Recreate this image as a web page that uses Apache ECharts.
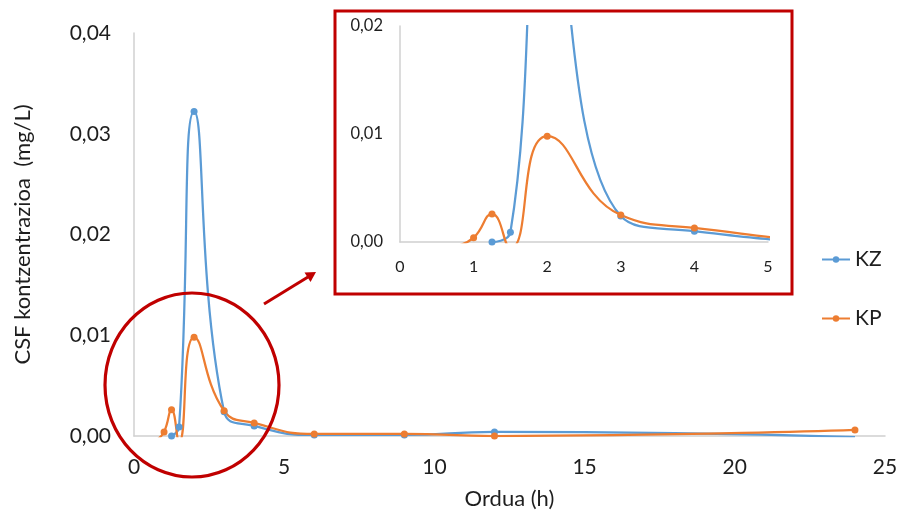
<!DOCTYPE html>
<html>
<head>
<meta charset="utf-8">
<script src="https://cdn.jsdelivr.net/npm/echarts@6/dist/echarts.min.js"></script>
<style>
html,body{margin:0;padding:0;background:#fff;}
#chart{width:902px;height:515px;}
</style>
</head>
<body>
<div id="chart"></div>
<script>
// ---- data (hours, mg/L) ----
const kzHours = [1.25, 1.5, 2, 3, 4, 6, 9, 12, 24];
const kzConc  = [0.0000, 0.0009, 0.0322, 0.0024, 0.0010, 0.0001, 0.0001, 0.0004, -0.0001];
const kpHours = [0.75, 1, 1.25, 1.5, 2, 3, 4, 6, 9, 12, 24];
const kpConc  = [-0.0004, 0.0004, 0.0026, -0.0006, 0.0098, 0.0025, 0.0013, 0.0002, 0.0002, 0.0000, 0.0006];
const seriesNames = ['KZ', 'KP'];
const mainYTicks = [0, 0.01, 0.02, 0.03, 0.04];
const insetYTicks = [0, 0.01, 0.02];

const BLUE = '#5B9BD5', ORANGE = '#ED7D31', RED = '#C00000';
const TXT = '#1e1e1e', AXIS = '#D0D0D0';
const FONT = 'Lato';

function pts(xs, ys) {
  return xs.map((x, i) => ys[i] < 0 ? { value: [x, ys[i]], symbol: 'none' } : [x, ys[i]]);
}
const fmt = v => v.toFixed(2).replace('.', ',');

function lineSeries(name, color, data, idx) {
  return {
    name, type: 'line', xAxisIndex: idx, yAxisIndex: idx,
    data, smooth: 0.5, clip: true,
    symbol: 'circle', symbolSize: 7, showSymbol: true,
    lineStyle: { color, width: 2.25 },
    itemStyle: { color },
    emphasis: { disabled: true },
    z: 5
  };
}

const chart = echarts.init(document.getElementById('chart'));
chart.setOption({
  backgroundColor: '#fff',
  animation: false,
  textStyle: { fontFamily: FONT, color: TXT },
  grid: [
    { left: 134, right: 17, top: 33, bottom: 78 },
    { left: 400, top: 26, width: 368, height: 216, z: 4 }
  ],
  xAxis: [
    {
      type: 'value', gridIndex: 0, min: 0, max: 25, interval: 5,
      name: 'Ordua (h)', nameLocation: 'middle', nameGap: 52,
      nameTextStyle: { fontFamily: FONT, fontSize: 22, color: TXT },
      axisLine: { show: true, lineStyle: { color: AXIS, width: 1.5 } },
      axisTick: { show: false }, splitLine: { show: false },
      axisLabel: { fontFamily: FONT, fontSize: 21, color: TXT, margin: 21 }
    },
    {
      type: 'value', gridIndex: 1, min: 0, max: 5, interval: 1,
      axisLine: { show: true, lineStyle: { color: AXIS, width: 1.5 } },
      axisTick: { show: false }, splitLine: { show: false },
      axisLabel: { fontFamily: FONT, fontSize: 16, color: TXT, margin: 17 }
    }
  ],
  yAxis: [
    {
      type: 'value', gridIndex: 0, min: mainYTicks[0], max: mainYTicks[mainYTicks.length - 1], interval: 0.01,
      name: 'CSF kontzentrazioa  (mg/L)', nameLocation: 'middle', nameGap: 100, nameRotate: 90,
      nameTextStyle: { fontFamily: FONT, fontSize: 22, color: TXT },
      axisLine: { show: true, lineStyle: { color: AXIS, width: 1.5 } },
      axisTick: { show: false }, splitLine: { show: false },
      axisLabel: { fontFamily: FONT, fontSize: 21, color: TXT, margin: 23, formatter: fmt }
    },
    {
      type: 'value', gridIndex: 1, min: insetYTicks[0], max: insetYTicks[insetYTicks.length - 1], interval: 0.01,
      axisLine: { show: true, lineStyle: { color: AXIS, width: 1.5 } },
      axisTick: { show: false }, splitLine: { show: false },
      axisLabel: { fontFamily: FONT, fontSize: 16.5, color: TXT, margin: 17, formatter: fmt }
    }
  ],
  legend: {
    data: seriesNames,
    orient: 'vertical', left: 816, top: 244, itemGap: 38,
    itemWidth: 28, itemHeight: 8,
    textStyle: { fontFamily: FONT, fontSize: 21, color: TXT }
  },
  series: [
    lineSeries(seriesNames[0], BLUE, pts(kzHours, kzConc), 0),
    lineSeries(seriesNames[1], ORANGE, pts(kpHours, kpConc), 0),
    lineSeries(seriesNames[0], BLUE, pts(kzHours, kzConc), 1),
    lineSeries(seriesNames[1], ORANGE, pts(kpHours, kpConc), 1)
  ],
  graphic: [
    { type: 'rect', z: 100, shape: { x: 335, y: 11, width: 457, height: 283 },
      style: { fill: null, stroke: RED, lineWidth: 3 } },
    { type: 'ellipse', z: 100, shape: { cx: 192, cy: 385, rx: 87, ry: 92 },
      style: { fill: null, stroke: RED, lineWidth: 3.2 } },
    { type: 'line', z: 100, shape: { x1: 264, y1: 304, x2: 308, y2: 277 },
      style: { stroke: RED, lineWidth: 3 } },
    { type: 'polygon', z: 100, shape: { points: [[316, 272], [304.5, 272.5], [310.5, 282]] },
      style: { fill: RED } }
  ]
});
</script>
</body>
</html>
